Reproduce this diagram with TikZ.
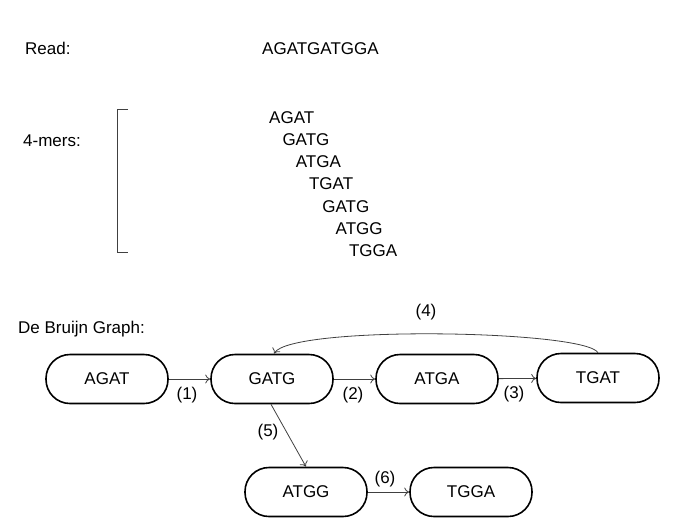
\documentclass[tikz,border=0pt]{standalone}
\usepackage{fontspec}
\setmainfont{Liberation Sans}
\usetikzlibrary{arrows.meta}
\begin{document}
\begin{tikzpicture}[x=1pt,y=-1pt,
  every node/.style={font=\fontsize{17pt}{20pt}\selectfont},
  txt/.style={anchor=base west,inner sep=0pt},
  kbox/.style={draw=black,line width=1.6pt,rounded corners=24pt,minimum width=122pt,minimum height=49pt,inner sep=0pt},
  lbl/.style={inner sep=0pt},
  edge/.style={draw=black!75,line width=0.8pt,-{To[length=5pt,width=9pt]}}]
\useasboundingbox (0,0) rectangle (692,531);
\node[txt] (read) at (25,54) {Read:};
\node[txt] (seq) at (262,54) {AGATGATGGA};
\node[txt] (kmers) at (23,146) {4-mers:};
\coordinate (bt) at (128,109);
\coordinate (bb) at (128,252);
\draw[black!75,line width=0.9pt] (bt) -- ++(-11,0) |- (bb);
\node[txt] (k1) at (269,123) {AGAT};
\node[txt] (k2) at (282.3,145.3) {GATG};
\node[txt] (k3) at (295.6,167.6) {ATGA};
\node[txt] (k4) at (308.9,189.9) {TGAT};
\node[txt] (k5) at (322.2,212.2) {GATG};
\node[txt] (k6) at (335.5,234.5) {ATGG};
\node[txt] (k7) at (348.8,256.8) {TGGA};
\node[txt] (dbg) at (18,333) {De Bruijn Graph:};
\node[kbox] (agat) at (107,379) {AGAT};
\node[kbox] (gatg) at (272,379) {GATG};
\node[kbox] (atga) at (437,379) {ATGA};
\node[kbox] (tgat) at (598,378) {TGAT};
\node[kbox] (atgg) at (306,492) {ATGG};
\node[kbox] (tgga) at (471,492) {TGGA};
\draw[edge] (agat) -- (gatg);
\draw[edge] (gatg) -- (atga);
\draw[edge] (atga) -- (tgat);
\draw[edge] (atgg) -- (tgga);
\draw[edge] (gatg.south) ++(-1,0) coordinate (g5) (g5) -- (atgg.north);
\draw[edge] (tgat.north) .. controls (585,330) and (290,325) .. ([xshift=2pt]gatg.north);
\node[lbl] (l1) at (187,395) {(1)};
\node[lbl] (l2) at (353,395) {(2)};
\node[lbl] (l3) at (514,394) {(3)};
\node[lbl] (l4) at (426,312) {(4)};
\node[lbl] (l5) at (268,432) {(5)};
\node[lbl] (l6) at (385,479) {(6)};
\end{tikzpicture}
\end{document}
